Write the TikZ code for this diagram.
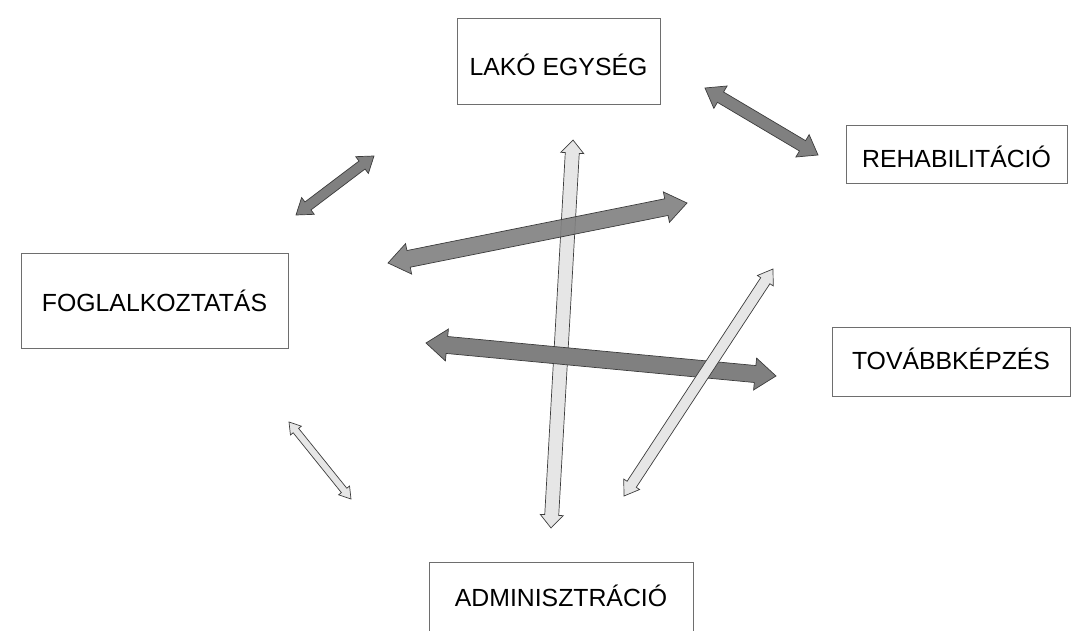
\documentclass[tikz,border=0pt]{standalone}
\usepackage{fontspec}
\setmainfont{Liberation Sans}
\usetikzlibrary{calc}
\definecolor{darkfill}{HTML}{808080}
\definecolor{lightfill}{HTML}{E6E6E6}
\definecolor{edgecol}{HTML}{3C3C3C}
\definecolor{boxcol}{HTML}{6E6E6E}
% block arrow: style, end a, end b, half shaft, half head, head length
\newcommand{\dblarrow}[6]{%
	\draw[#1] (#2)
	-- ($(#2)!#6!(#3)!#5!90:(#3)$) -- ($(#2)!#6!(#3)!#4!90:(#3)$)
	-- ($(#3)!#6!(#2)!#4!-90:(#2)$) -- ($(#3)!#6!(#2)!#5!-90:(#2)$)
	-- (#3)
	-- ($(#3)!#6!(#2)!#5!90:(#2)$) -- ($(#3)!#6!(#2)!#4!90:(#2)$)
	-- ($(#2)!#6!(#3)!#4!-90:(#3)$) -- ($(#2)!#6!(#3)!#5!-90:(#3)$)
	-- cycle;}

\begin{document}
\begin{tikzpicture}[x=1pt,y=-1pt,
	box/.style={draw=boxcol,line width=0.9pt,inner sep=0pt,text height=17.5pt,text depth=0pt,
		font=\fontsize{24.8pt}{29pt}\selectfont},
	dark/.style={fill=darkfill,draw=edgecol,line width=0.7pt,line join=miter},
	light/.style={fill=lightfill,draw=edgecol,line width=0.7pt,line join=miter}]
	\useasboundingbox (0,0) rectangle (1072,631);
	\clip (0,0) rectangle (1072,631);
	
	\node[box,minimum width=203pt,minimum height=86pt,text height=29.5pt] (lako) at (558.5,61) {LAKÓ EGYSÉG};
	\node[box,minimum width=221pt,minimum height=58pt,text height=26.5pt] (rehab) at (956.5,154) {REHABILITÁCIÓ};
	\node[box,minimum width=267pt,minimum height=95pt,text height=21.5pt] (fog) at (154.5,300.5) {FOGLALKOZTATÁS};
	\node[box,minimum width=238pt,minimum height=69pt,text height=15.5pt] (tov) at (951,361.5) {TOVÁBBKÉPZÉS};
	\node[box,minimum width=264pt,minimum height=72pt,text height=16.5pt] (admin) at (561,598) {ADMINISZTRÁCIÓ};
	
	\coordinate (fl-a) at (296,215);  \coordinate (fl-b) at (374,156);
	\coordinate (fr-a) at (388,263);  \coordinate (fr-b) at (687,203);
	\coordinate (la-a) at (573,140);  \coordinate (la-b) at (551,528);
	\coordinate (lr-a) at (705,88);   \coordinate (lr-b) at (818,155);
	\coordinate (ra-a) at (773,269);  \coordinate (ra-b) at (624,496);
	\coordinate (ft-a) at (426,343);  \coordinate (ft-b) at (776,376);
	\coordinate (fa-a) at (289,422);  \coordinate (fa-b) at (351,499);
	
	\dblarrow{light}{fa-a}{fa-b}{3.5pt}{7pt}{11pt}
	\dblarrow{dark}{fl-a}{fl-b}{5pt}{10.5pt}{15pt}
	\dblarrow{dark}{lr-a}{lr-b}{6pt}{13pt}{18pt}
	\dblarrow{light}{la-a}{la-b}{7pt}{11.5pt}{13pt}
	\dblarrow{dark,fill opacity=0.9}{fr-a}{fr-b}{8.5pt}{15.5pt}{21pt}
	\dblarrow{dark}{ft-a}{ft-b}{8.5pt}{16pt}{21pt}
	\dblarrow{light}{ra-a}{ra-b}{5.5pt}{9.5pt}{14pt}
\end{tikzpicture}
\end{document}
